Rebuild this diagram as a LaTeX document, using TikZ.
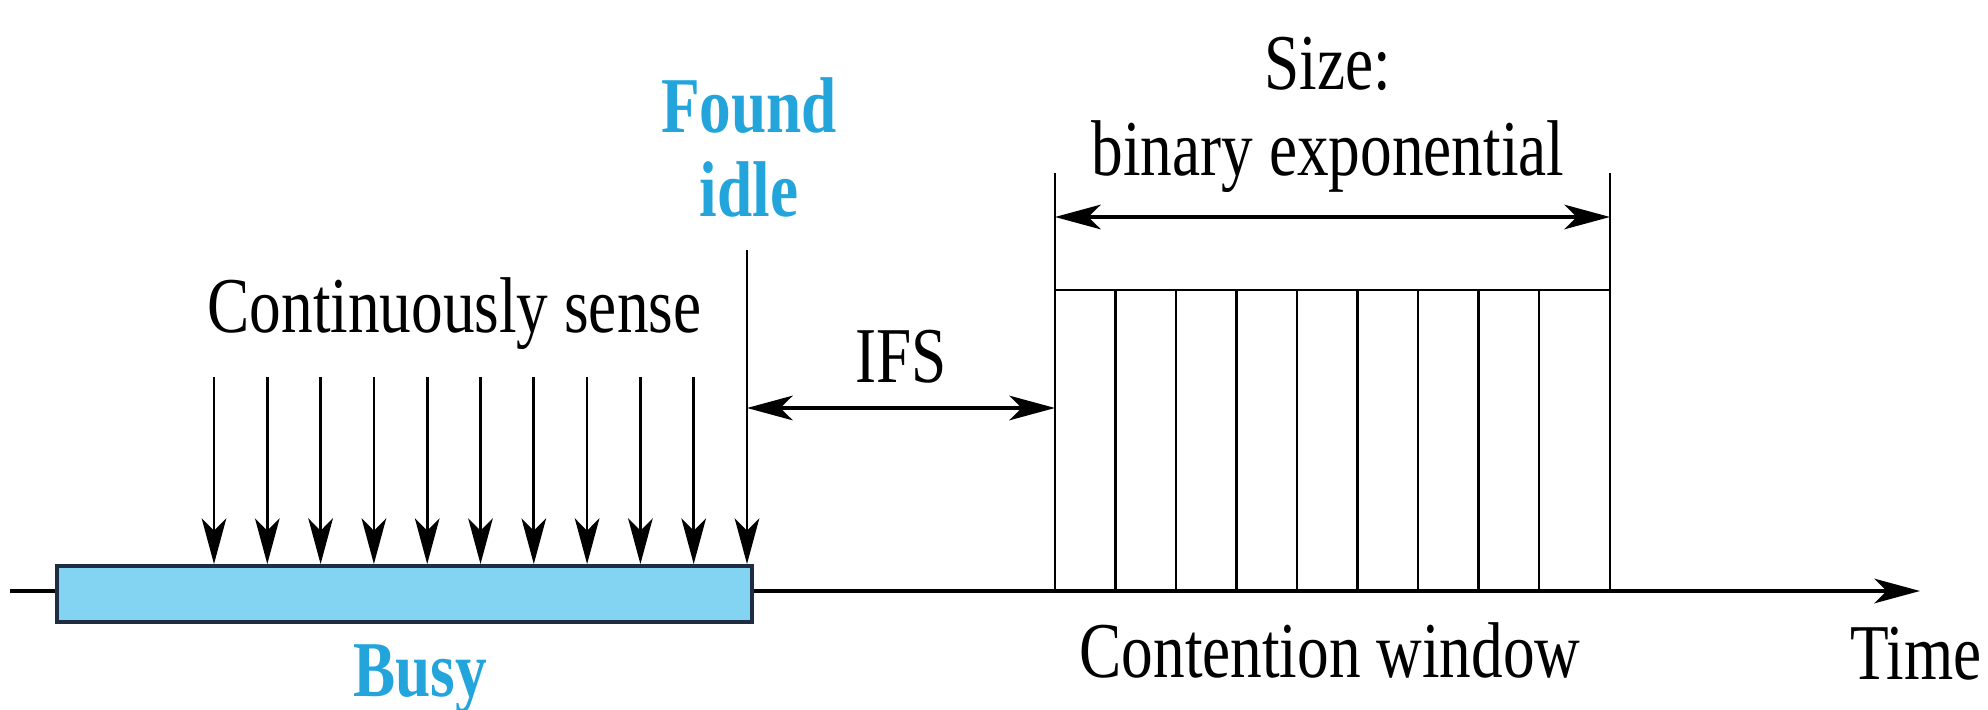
\documentclass[tikz,border=0pt]{standalone}
\usepackage{fontspec}
\setmainfont{Liberation Serif}[FakeStretch=0.8]
\usepackage{xcolor}
\usetikzlibrary{arrows.meta,positioning,calc}

\definecolor{idleblue}{RGB}{35,165,220}
\definecolor{busyfill}{RGB}{130,212,242}
\definecolor{busyedge}{RGB}{30,45,65}

\tikzset{
  lbl/.style={inner sep=0pt, font=\fontsize{22.5}{24.5}\selectfont},
  bluelbl/.style={inner sep=0pt, text=idleblue, font=\fontsize{22.5}{24}\selectfont\bfseries},
  slot/.style={line width=0.75pt}
}

\begin{document}
\begin{tikzpicture}[>={Stealth[length=13pt,width=7pt,inset=3.5pt]}]
        \useasboundingbox (0,0) rectangle (19.88,7.10);

        % Time axis
        \coordinate (t0) at (0.10,1.19);
        \coordinate (t1) at (19.20,1.19);
        \draw[->, line width=1pt] (t0) -- (t1);
        \node[lbl, anchor=base] (time) at (19.16,0.30) {Time};

        % Busy medium
        \node[draw=busyedge, line width=1.1pt, fill=busyfill, minimum width=6.95cm, minimum height=0.56cm] (busy) at (4.045,1.16) {};
        \node[bluelbl, anchor=base] (busylbl) at (4.20,0.13) {Busy};

        % Continuous sensing
        \node[lbl, anchor=base] (sense) at (4.545,3.77) {Continuously sense};
        \foreach \i in {0,...,9} {
          \coordinate (s\i) at (2.14+0.533*\i,3.33);
          \draw[->, slot] (s\i) -- (s\i |- busy.north);
        }

        % Found idle
        \coordinate (idle) at (7.47,4.60);
        \draw[->, slot] (idle) -- (idle |- busy.north);
        \node[bluelbl, anchor=base, align=center] (found) at (7.49,4.93) {Found\\idle};

        % IFS
        \coordinate (ifsl) at (7.47,3.02);
        \coordinate (ifsr) at (10.55,3.02);
        \draw[<->, line width=1pt] (ifsl) -- (ifsr);
        \node[lbl, anchor=base] (ifs) at (9.01,3.27) {IFS};

        % Contention window
        \coordinate (cwl) at (10.55,5.37);
        \coordinate (cwr) at (16.10,5.37);
        \coordinate (cwtop) at (10.55,4.20);
        \draw[slot] (cwl) -- (cwl |- t0);
        \draw[slot] (cwr) -- (cwr |- t0);
        \draw[slot] (cwtop) -- (cwtop -| cwr);
        \foreach \i in {1,...,8}
          \draw[slot] ([xshift=\i*6.05mm]cwtop) -- ([xshift=\i*6.05mm]cwtop |- t0);
        \node[lbl, anchor=base] (cw) at (13.30,0.32) {Contention window};

        % Window size
        \coordinate (szl) at (10.55,4.93);
        \coordinate (szr) at (16.10,4.93);
        \draw[<->, line width=1pt] (szl) -- (szr);
        \node[lbl, anchor=base, align=center] (size) at (13.28,5.34) {Size:\\binary exponential};
    \end{tikzpicture}
\end{document}
